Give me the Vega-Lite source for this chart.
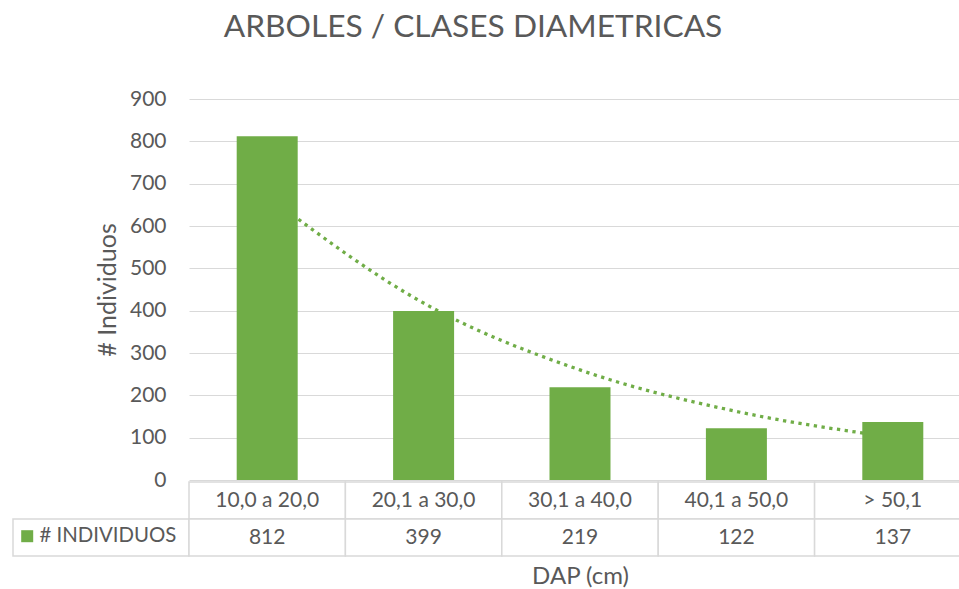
{
  "$schema": "https://vega.github.io/schema/vega-lite/v6.json",
  "padding": {"left": 12, "top": 12, "right": 0, "bottom": 0},
  "title": {"text": "ARBOLES / CLASES DIAMETRICAS", "fontSize": 31.7, "font": "Lato", "fontWeight": "normal", "color": "#595959", "anchor": "middle", "dx": -19, "offset": 44},
  "data": {"values": [
    {"cat": "10,0 a 20,0", "n": 812, "trend": 671},
    {"cat": "20,1 a 30,0", "n": 399, "trend": 418},
    {"cat": "30,1 a 40,0", "n": 219, "trend": 260},
    {"cat": "40,1 a 50,0", "n": 122, "trend": 162},
    {"cat": "> 50,1", "n": 137, "trend": 101}
  ]},
  "columns": 2,
  "spacing": {"row": 2, "column": 0},
  "bounds": "flush",
  "resolve": {"scale": {"x": "independent", "y": "independent", "color": "independent"}, "legend": {"color": "independent"}},
  "concat": [
    {
      "width": 176, "height": 381,
      "data": {"values": [{"z": 1}]},
      "mark": {"type": "point", "opacity": 0},
      "encoding": {}
    },
    {
      "width": 782, "height": 381,
      "encoding": {
        "x": {"field": "cat", "type": "nominal", "sort": null, "scale": {"paddingInner": 0.61, "paddingOuter": 0.305}, "axis": null}
      },
      "layer": [
        {
          "mark": {"type": "line", "color": "#70AD47", "strokeWidth": 3.3, "strokeDash": [3.3, 4.5], "interpolate": "monotone"},
          "encoding": {
            "y": {"field": "trend", "type": "quantitative", "scale": {"domain": [0, 900], "nice": false},
              "axis": {"title": "# Individuos", "values": [0,100,200,300,400,500,600,700,800,900], "ticks": false, "domain": false, "grid": true, "gridColor": "#D9D9D9", "labelFontSize": 21, "labelColor": "#595959", "labelPadding": 23, "titleFontSize": 25, "titleColor": "#595959", "titleFontWeight": "normal", "titlePadding": 9}}
          }
        },
        {
          "mark": {"type": "bar", "color": "#70AD47"},
          "encoding": {
            "y": {"field": "n", "type": "quantitative", "axis": {"title": "# Individuos"}}
          }
        }
      ]
    },
    {
      "width": 176, "height": 74,
      "data": {"values": [{"s": "# INDIVIDUOS"}]},
      "layer": [
        {
          "mark": {"type": "rect", "fill": "white", "stroke": "#D9D9D9", "strokeWidth": 1.5},
          "encoding": {
            "y": {"datum": "val", "type": "nominal", "scale": {"domain": ["cat", "val"], "paddingInner": 0, "paddingOuter": 0}, "axis": null}
          }
        },
        {
          "mark": {"type": "square", "opacity": 0},
          "encoding": {
            "color": {"field": "s", "type": "nominal", "scale": {"range": ["#70AD47"]},
              "legend": {"title": null, "orient": "bottom-left", "offset": 9, "padding": 0, "symbolType": "square", "symbolSize": 144, "symbolOpacity": 1, "symbolStrokeWidth": 0, "symbolOffset": -5, "labelFontSize": 20.4, "labelColor": "#595959", "labelOffset": 2, "labelLimit": 300}}
          }
        }
      ]
    },
    {
      "width": 782, "height": 74,
      "encoding": {
        "x": {"field": "cat", "type": "nominal", "sort": null, "scale": {"paddingInner": 0, "paddingOuter": 0},
          "axis": {"title": "DAP (cm)", "labels": false, "ticks": false, "domain": false, "grid": false, "titleFontSize": 24, "titleColor": "#595959", "titleFontWeight": "normal", "titlePadding": 8}}
      },
      "layer": [
        {
          "mark": {"type": "rect", "fill": "white", "stroke": "#D9D9D9", "strokeWidth": 1.5},
          "encoding": {"y": {"datum": "cat", "type": "nominal", "scale": {"domain": ["cat", "val"], "paddingInner": 0, "paddingOuter": 0}, "axis": null}}
        },
        {
          "mark": {"type": "rect", "fill": "white", "stroke": "#D9D9D9", "strokeWidth": 1.5},
          "encoding": {"y": {"datum": "val", "type": "nominal"}}
        },
        {
          "mark": {"type": "text", "fontSize": 21, "color": "#595959", "baseline": "middle"},
          "encoding": {"y": {"datum": "cat", "type": "nominal"}, "text": {"field": "cat"}}
        },
        {
          "mark": {"type": "text", "fontSize": 21, "color": "#595959", "baseline": "middle"},
          "encoding": {"y": {"datum": "val", "type": "nominal"}, "text": {"field": "n"}}
        }
      ]
    }
  ],
  "config": {
    "font": "Lato",
    "view": {"stroke": null}
  }
}
